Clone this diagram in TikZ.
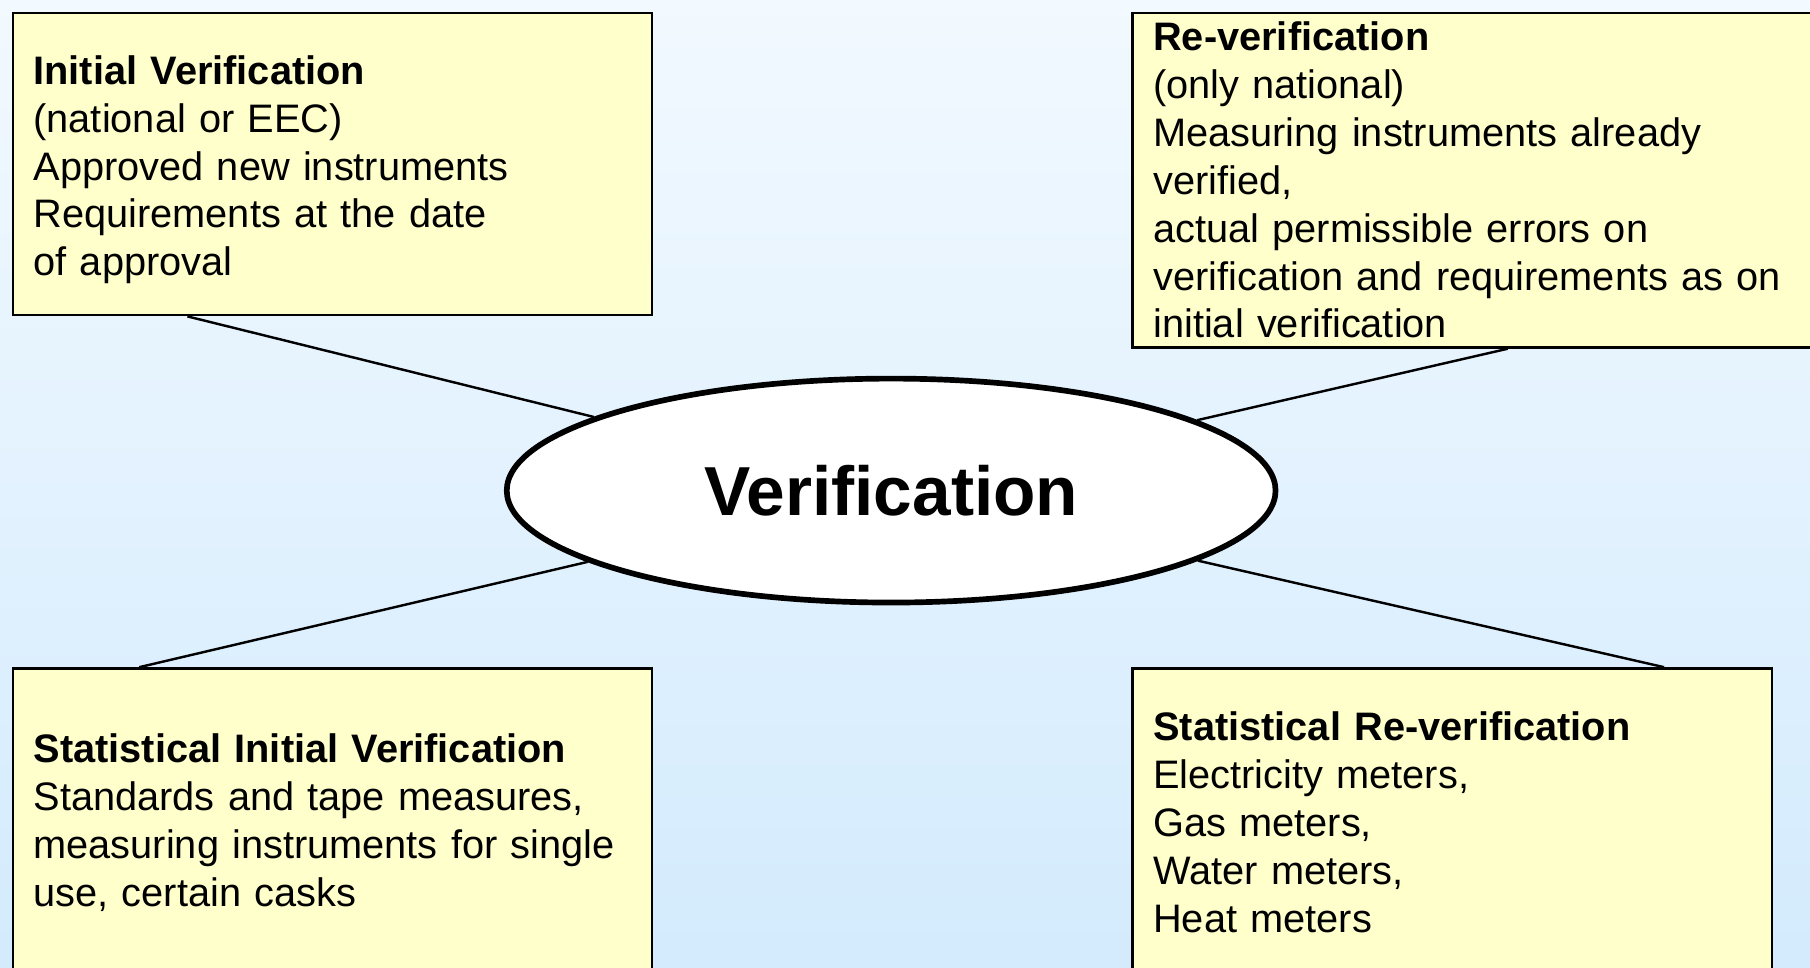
\documentclass[tikz,border=0pt]{standalone}
\usepackage{fontspec}
\setmainfont{Liberation Sans}
\usetikzlibrary{shapes.geometric,calc}

\definecolor{skytop}{RGB}{242,249,255}
\definecolor{skybottom}{RGB}{211,235,253}
\definecolor{notefill}{RGB}{255,255,204}

\tikzset{
	infobox/.style={draw=black, line width=0.6pt, fill=notefill, rectangle,
		anchor=north west, align=left, inner xsep=0.18cm, inner ysep=0pt,
		font=\fontsize{9.8}{11.8}\selectfont},
	hub/.style={draw=black, line width=1.4pt, fill=white, ellipse, inner sep=0pt,
		minimum width=6.66cm, minimum height=1.94cm,
		font=\fontsize{17.1}{20}\selectfont\bfseries},
	link/.style={draw=black, line width=0.6pt}
}

\begin{document}
\begin{tikzpicture}
				\useasboundingbox (0, 0) rectangle (15.68, 8.38);
				\clip (0, 0) rectangle (15.68, 8.38);
				\shade[top color=skytop, bottom color=skybottom] (0, 0) rectangle (15.68, 8.38);
				% four boxes round the centre
				\node[infobox, text width=5.18cm, minimum height=2.62cm] (initial) at (0.10, 8.28)
					{\rule{0pt}{10pt}\textbf{Initial Verification}\\(national or EEC)\\Approved new instruments\\Requirements at the date\\of approval};
				\node[infobox, text width=6.04cm, minimum height=2.90cm] (reverif) at (9.80, 8.28)
					{\textbf{Re-verification}\\(only national)\\Measuring instruments already\\verified,\\actual permissible errors on\\verification and requirements as on\\initial verification};
				\node[infobox, text width=5.18cm, minimum height=2.67cm] (statinit) at (0.10, 2.60)
					{\textbf{Statistical Initial Verification}\\Standards and tape measures,\\measuring instruments for single\\use, certain casks};
				\node[infobox, text width=5.18cm, minimum height=2.67cm] (statre) at (9.80, 2.60)
					{\textbf{Statistical Re-verification}\\Electricity meters,\\Gas meters,\\Water meters,\\Heat meters};
				% where the lines meet the boxes
				\coordinate (initial-foot) at ($(initial.south west)!0.274!(initial.south east)$);
				\coordinate (reverif-foot) at ($(reverif.south west)!0.508!(reverif.south east)$);
				\coordinate (statinit-top) at ($(statinit.north west)!0.199!(statinit.north east)$);
				\coordinate (statre-top) at ($(statre.north west)!0.830!(statre.north east)$);
				\node[hub] (verif) at (7.72, 4.13) {Verification};
				\draw[link] (verif) -- (initial-foot);
				\draw[link] (verif) -- (reverif-foot);
				\draw[link] (verif) -- (statinit-top);
				\draw[link] (verif) -- (statre-top);
			\end{tikzpicture}
\end{document}
